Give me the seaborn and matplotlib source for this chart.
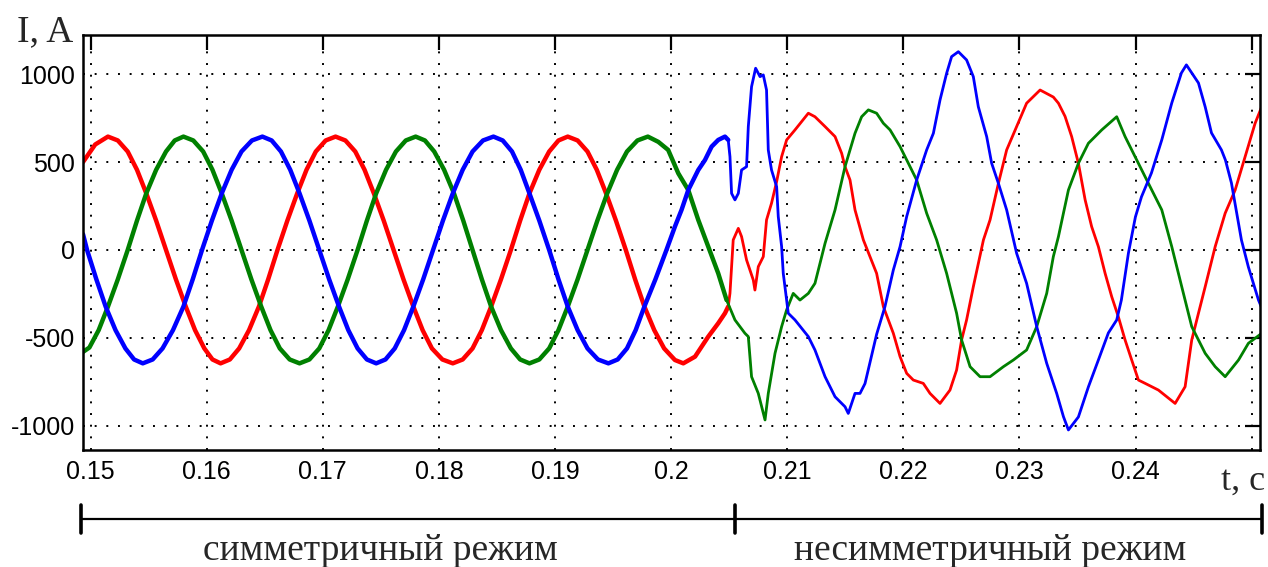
import matplotlib
matplotlib.use("Agg")
import numpy as np
import pandas as pd
import seaborn as sns
import matplotlib.pyplot as plt
import matplotlib.transforms as mtransforms
from matplotlib.lines import Line2D

# ---------------- data ----------------
t_red = [0.14935, 0.1504, 0.1515, 0.15235, 0.1532, 0.1540, 0.1548, 0.15565, 0.1565, 0.15735,
         0.1582, 0.1590, 0.1598, 0.1605, 0.1612, 0.1620, 0.1628, 0.16365, 0.1645, 0.1653,
         0.1661, 0.16695, 0.1678, 0.1686, 0.1694, 0.17025, 0.1711, 0.17195, 0.1728, 0.1736,
         0.1744, 0.17525, 0.1761, 0.17695, 0.1778, 0.1786, 0.1794, 0.1803, 0.1812, 0.18205,
         0.1829, 0.1837, 0.1845, 0.18535, 0.1862, 0.1870, 0.1878, 0.18865, 0.1895, 0.1903,
         0.1911, 0.19195, 0.1928, 0.1936, 0.1944, 0.19525, 0.1961, 0.1969, 0.1977, 0.19855,
         0.1994, 0.20033, 0.20105, 0.20206, 0.20320, 0.20406, 0.20464, 0.20492, 0.20507,
         0.20535, 0.20579, 0.20607, 0.20650, 0.20708, 0.20722, 0.20751, 0.20794, 0.20822,
         0.20865, 0.20909, 0.20952, 0.20995, 0.21067, 0.21182, 0.21239, 0.21326, 0.21412,
         0.21469, 0.21498, 0.21541, 0.21584, 0.21656, 0.21713, 0.21770, 0.21828, 0.21914,
         0.21972, 0.22029, 0.22086, 0.22172, 0.22230, 0.22316, 0.22402, 0.22459, 0.22502,
         0.22545, 0.22603, 0.22690, 0.22747, 0.22819, 0.22890, 0.22976, 0.23062, 0.23178,
         0.23292, 0.23336, 0.23393, 0.23450, 0.23508, 0.23566, 0.23622, 0.23680, 0.23738,
         0.23795, 0.23852, 0.23910, 0.23967, 0.24025, 0.24083, 0.24197, 0.24341, 0.24427,
         0.24484, 0.24542, 0.24600, 0.24686, 0.24772, 0.24858, 0.24944, 0.25030, 0.25087]
i_red = [500, 600, 645, 623, 560, 456, 322, 167, 0, -167,
         -322, -456, -560, -623, -645, -623, -560, -456, -322, -167,
         0, 167, 322, 456, 560, 623, 645, 623, 560, 456,
         322, 167, 0, -167, -322, -456, -560, -623, -645, -623,
         -560, -456, -322, -167, 0, 167, 322, 456, 560, 623,
         645, 623, 560, 456, 322, 167, 0, -167, -322, -456,
         -560, -626, -645, -607, -493, -417, -360, -322, -247,
         57, 123, 76, -57, -171, -228, -95, -38, 171,
         266, 389, 531, 626, 683, 778, 758, 702, 645,
         550, 474, 398, 228, 57, -38, -133, -322, -474,
         -607, -702, -740, -759, -816, -873, -797, -683, -512,
         -398, -209, 57, 171, 379, 569, 702, 835, 910,
         870, 835, 760, 645, 493, 285, 133, 19, -133,
         -266, -380, -512, -626, -740, -759, -797, -873, -778,
         -512, -360, -209, 19, 209, 341, 531, 721, 815]

t_green = [0.14935, 0.1499, 0.1507, 0.1515, 0.15235, 0.1532, 0.1540, 0.1548, 0.15565, 0.1565,
           0.15725, 0.1580, 0.15885, 0.1597, 0.1605, 0.1613, 0.16215, 0.1630, 0.16385, 0.1647,
           0.1655, 0.1663, 0.16715, 0.1680, 0.16885, 0.1697, 0.1705, 0.1713, 0.17215, 0.1730,
           0.1738, 0.1746, 0.17545, 0.1763, 0.17715, 0.1780, 0.1788, 0.1796, 0.18045, 0.1813,
           0.1821, 0.1829, 0.1837, 0.1845, 0.18535, 0.1862, 0.1870, 0.1878, 0.18865, 0.1895,
           0.1903, 0.1911, 0.19195, 0.1928, 0.19365, 0.1945, 0.19535, 0.1962, 0.1971, 0.1980,
           0.1989, 0.19975, 0.20062, 0.20148, 0.20234, 0.20320, 0.20406, 0.20478, 0.20550,
           0.20636, 0.20665, 0.20693, 0.20751, 0.20809, 0.20837, 0.20895, 0.20952, 0.20995,
           0.21052, 0.21110, 0.21182, 0.21239, 0.21326, 0.21412, 0.21498, 0.21584, 0.21641,
           0.21699, 0.21770, 0.21828, 0.21886, 0.21972, 0.22058, 0.22115, 0.22201, 0.22287,
           0.22373, 0.22459, 0.22502, 0.22575, 0.22661, 0.22747, 0.22862, 0.22948, 0.23062,
           0.23149, 0.23235, 0.23292, 0.23336, 0.23379, 0.23422, 0.23508, 0.23594, 0.23709,
           0.23838, 0.23910, 0.23996, 0.24111, 0.24226, 0.24312, 0.24398, 0.24484, 0.24600,
           0.24686, 0.24772, 0.24887, 0.24972, 0.25087]
i_green = [-580, -555, -456, -322, -167, 0, 167, 322, 456, 560,
           623, 645, 623, 560, 456, 322, 167, 0, -167, -322,
           -456, -560, -623, -645, -623, -560, -456, -322, -167, 0,
           167, 322, 456, 560, 623, 645, 623, 560, 456, 322,
           167, 0, -167, -322, -456, -560, -623, -645, -623, -560,
           -456, -322, -167, 0, 167, 322, 456, 560, 623, 645,
           615, 569, 436, 341, 171, 19, -133, -285, -398,
           -474, -493, -721, -816, -967, -816, -588, -436, -341,
           -247, -285, -247, -190, 38, 228, 474, 664, 758,
           797, 778, 721, 683, 588, 474, 398, 209, 57,
           -133, -360, -512, -664, -721, -721, -664, -626, -569,
           -436, -247, -38, 76, 209, 341, 493, 607, 683,
           758, 645, 531, 379, 228, 19, -209, -436, -588,
           -664, -721, -626, -531, -474]

t_blue = [0.14935, 0.1497, 0.1505, 0.1513, 0.15215, 0.1530, 0.15375, 0.1545, 0.15535, 0.1562,
          0.1571, 0.1580, 0.1588, 0.1596, 0.16045, 0.1613, 0.16215, 0.1630, 0.1639, 0.1648,
          0.1656, 0.1664, 0.1672, 0.1680, 0.16885, 0.1697, 0.17055, 0.1714, 0.1722, 0.1730,
          0.1738, 0.1746, 0.1754, 0.1762, 0.1770, 0.1778, 0.17865, 0.1795, 0.18035, 0.1812,
          0.18205, 0.1829, 0.1838, 0.1847, 0.1855, 0.1863, 0.18705, 0.1878, 0.18865, 0.1895,
          0.1903, 0.1911, 0.19195, 0.1928, 0.1937, 0.1946, 0.1954, 0.1962, 0.19695, 0.1977,
          0.19865, 0.1996, 0.20033, 0.20090, 0.20148, 0.20234, 0.20292, 0.20349, 0.20406,
          0.20464, 0.20492, 0.20507, 0.20521, 0.20550, 0.20579, 0.20607, 0.20650, 0.20665,
          0.20693, 0.20728, 0.20766, 0.20794, 0.20822, 0.20837, 0.20865, 0.20909, 0.20923,
          0.20952, 0.20966, 0.20995, 0.21009, 0.21067, 0.21182, 0.21239, 0.21326, 0.21412,
          0.21498, 0.21526, 0.21584, 0.21627, 0.21670, 0.21713, 0.21770, 0.21842, 0.21914,
          0.21972, 0.22029, 0.22115, 0.22201, 0.22259, 0.22316, 0.22373, 0.22416, 0.22474,
          0.22545, 0.22603, 0.22646, 0.22718, 0.22761, 0.22819, 0.22890, 0.22976, 0.23062,
          0.23149, 0.23235, 0.23321, 0.23379, 0.23422, 0.23508, 0.23594, 0.23680, 0.23766,
          0.23838, 0.23878, 0.23939, 0.23999, 0.24051, 0.24137, 0.24226, 0.24312, 0.24395,
          0.24438, 0.24542, 0.24600, 0.24654, 0.24740, 0.24774, 0.24826, 0.24912, 0.24972,
          0.25059, 0.25087]
i_blue = [90, 0, -167, -322, -456, -560, -623, -645, -623, -560,
          -456, -322, -167, 0, 167, 322, 456, 560, 623, 645,
          623, 560, 456, 322, 167, 0, -167, -322, -456, -560,
          -623, -645, -623, -560, -456, -322, -167, 0, 167, 322,
          456, 560, 623, 645, 623, 560, 456, 322, 167, 0,
          -167, -322, -456, -560, -623, -645, -623, -560, -456, -322,
          -167, 0, 133, 228, 341, 455, 512, 588, 626,
          645, 626, 531, 322, 285, 322, 455, 474, 702,
          929, 1034, 986, 996, 910, 569, 455, 360, 190,
          19, -133, -285, -360, -398, -493, -569, -721, -835,
          -892, -930, -816, -816, -760, -640, -480, -322, -114,
          19, 190, 398, 569, 664, 853, 1005, 1100, 1128,
          1081, 986, 815, 645, 493, 379, 228, -19, -190,
          -436, -645, -816, -948, -1024, -950, -779, -626, -472,
          -398, -285, -17, 188, 302, 438, 626, 836, 1007,
          1053, 950, 814, 666, 569, 512, 381, 57, -97,
          -285, -330]

phase_names = ["red", "green", "blue"]
phase_colors = ["#ff0000", "#008000", "#0000ff"]

x_ticks = [0.15, 0.16, 0.17, 0.18, 0.19, 0.20, 0.21, 0.22, 0.23, 0.24, 0.25]
x_tick_labels = ["0.15", "0.16", "0.17", "0.18", "0.19", "0.2", "0.21", "0.22", "0.23", "0.24", ""]
y_ticks = [-1000, -500, 0, 500, 1000]
y_tick_labels = ["-1000", "-500", "0", "500", "1000"]

regime_switch = 0.2055
regime_start = 0.14918
regime_end = 0.25085
regime_labels = ["симметричный режим", "несимметричный режим"]
y_label = "I, A"
x_label = "t, c"

# ---------------- plot ----------------
sns.set_style("white")
plt.rcParams["font.family"] = ["Liberation Sans", "DejaVu Sans"]

W, H = 1268, 567
fig = plt.figure(figsize=(W / 100, H / 100), dpi=100)
ax = fig.add_axes([83 / W, 1 - 450 / H, (1260 - 83) / W, (450 - 35) / H])

series = {"red": (t_red, i_red), "green": (t_green, i_green), "blue": (t_blue, i_blue)}
for name, color in zip(phase_names, phase_colors):
    t, i = series[name]
    df = pd.DataFrame({"t": t, "I": i})
    sym = df[df["t"] <= 0.2050]
    asym = df[df["t"] >= sym["t"].max()]
    sns.lineplot(data=sym, x="t", y="I", color=color, lw=3.2, estimator=None,
                 sort=False, ax=ax)
    sns.lineplot(data=asym, x="t", y="I", color=color, lw=2.0, estimator=None,
                 sort=False, ax=ax)

ax.set_xlim(0.14935, 0.25072)
ax.set_ylim(-1138, 1223)
ax.set_xticks(x_ticks)
ax.set_xticklabels(x_tick_labels)
ax.set_yticks(y_ticks)
ax.set_yticklabels(y_tick_labels)
ax.set_xlabel("")
ax.set_ylabel("")
ax.tick_params(direction="in", length=11, width=1.6, top=True, right=True,
               labelsize=18, pad=7, colors="black")
ax.tick_params(axis="y", pad=6)
ax.grid(True, color="black", linestyle=(0, (1, 5)), linewidth=1.4)
ax.set_axisbelow(True)
for s in ax.spines.values():
    s.set_linewidth(1.8)
    s.set_color("black")

serif = ["Liberation Serif", "DejaVu Serif"]
fig.text(17 / W, 1 - 41 / H, y_label, ha="left", va="baseline", fontsize=27, family=serif)
fig.text(1221 / W, 1 - 490 / H, x_label, ha="left", va="baseline", fontsize=26, family=serif)

# regime bracket
trans = mtransforms.blended_transform_factory(ax.transData, fig.transFigure)
yb = 1 - 519 / H
hb = 14 / H
fig.add_artist(Line2D([regime_start, regime_end], [yb, yb], transform=trans,
                      color="black", lw=1.6))
for xb in [regime_start, regime_switch, regime_end]:
    fig.add_artist(Line2D([xb, xb], [yb - hb, yb + hb], transform=trans,
                          color="black", lw=2.6))
fig.text(380 / W, 1 - 560 / H, regime_labels[0], ha="center", va="baseline",
         fontsize=27, family=serif)
fig.text(990 / W, 1 - 560 / H, regime_labels[1], ha="center", va="baseline",
         fontsize=27, family=serif)

fig.savefig("out.png", dpi=100)
